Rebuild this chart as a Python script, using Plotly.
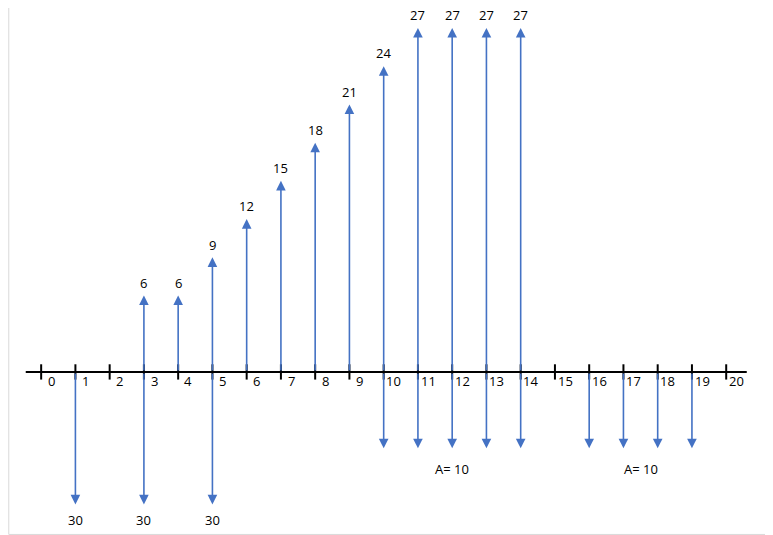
import plotly.graph_objects as go

periods = list(range(0, 21))
up_x = [3, 4, 5, 6, 7, 8, 9, 10, 11, 12, 13, 14]
up_vals = [6, 6, 9, 12, 15, 18, 21, 24, 27, 27, 27, 27]
down_big_x = [1, 3, 5]
down_big_vals = [30, 30, 30]
down_big_depth = -10.4
annuity_x = [[10, 11, 12, 13, 14], [16, 17, 18, 19]]
annuity_label = "A= 10"
annuity_depth = -6.0

BLUE = "#4472C4"
FONT = dict(family="Open Sans, Liberation Sans", size=13, color="black")

fig = go.Figure()
ann = []
shapes = []

shapes.append(dict(type="line", xref="x", yref="y", x0=-0.45, x1=20.6, y0=0, y1=0,
                   line=dict(color="black", width=2)))
for p in periods:
    shapes.append(dict(type="line", xref="x", yref="y", x0=p, x1=p, y0=-0.6, y1=0.6,
                       line=dict(color="black", width=2)))
    ann.append(dict(x=p + 0.3, y=-0.75, text=str(p), showarrow=False, font=FONT,
                    xref="x", yref="y"))

def arrow(x, y0, y1):
    ann.append(dict(x=x, y=y1, ax=x, ay=y0, xref="x", yref="y", axref="x", ayref="y",
                    text="", showarrow=True, arrowhead=2, arrowsize=1.2, arrowwidth=1.6,
                    arrowcolor=BLUE))

for x, v in zip(up_x, up_vals):
    arrow(x, 0, v)
    ann.append(dict(x=x, y=v + 1.0, text=str(v), showarrow=False, font=FONT,
                    xref="x", yref="y"))
for x, v in zip(down_big_x, down_big_vals):
    arrow(x, 0, down_big_depth)
    ann.append(dict(x=x, y=down_big_depth - 1.2, text=str(v), showarrow=False, font=FONT,
                    xref="x", yref="y"))
for grp in annuity_x:
    for x in grp:
        arrow(x, 0, annuity_depth)
    mid = (grp[0] + grp[-1]) / 2
    ann.append(dict(x=mid, y=annuity_depth - 1.6, text=annuity_label, showarrow=False,
                    font=FONT, xref="x", yref="y"))

shapes.append(dict(type="rect", xref="paper", yref="paper", x0=0.001, x1=0.996,
                   y0=0.016, y1=1.2, line=dict(color="#d9d9d9", width=1)))

fig.update_layout(
    width=773, height=535, margin=dict(l=0, r=0, t=0, b=0),
    plot_bgcolor="white", paper_bgcolor="white", showlegend=False,
    xaxis=dict(range=[-0.968, 21.6], visible=False, fixedrange=True),
    yaxis=dict(range=[-13.43, 28.57], visible=False, fixedrange=True),
    annotations=ann, shapes=shapes,
)
fig.write_html("out.html")
